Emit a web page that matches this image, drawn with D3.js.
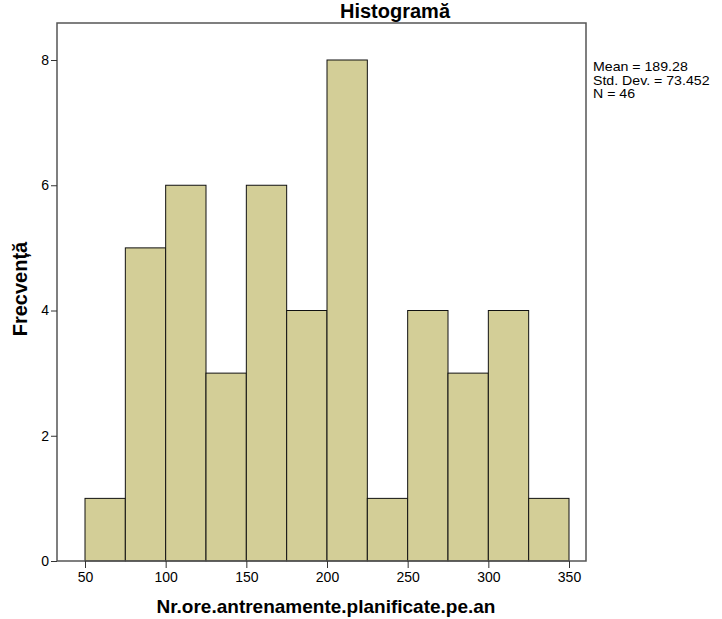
<!DOCTYPE html>
<html>
<head>
<meta charset="utf-8">
<script src="https://cdn.jsdelivr.net/npm/d3@7/dist/d3.min.js"></script>
<style>
  html, body { margin: 0; padding: 0; background: #fff; }
  svg { display: block; }
  text { font-family: "Liberation Sans", Arial, sans-serif; fill: #000; }
</style>
</head>
<body>
<script>
// Histogram bins (lower edges, width 25) and their frequencies
const binStarts = [50, 75, 100, 125, 150, 175, 200, 225, 250, 275, 300, 325];
const binWidth = 25;
const counts = [1, 5, 6, 3, 6, 4, 8, 1, 4, 3, 4, 1];
const xTicks = [50, 100, 150, 200, 250, 300, 350];
const yTicks = [0, 2, 4, 6, 8];
const statLines = ["Mean = 189.28", "Std. Dev. = 73.452", "N = 46"];
const title = "Histogramă";
const xLabel = "Nr.ore.antrenamente.planificate.pe.an";
const yLabel = "Frecvență";

const W = 722, H = 619;
const frame = { left: 57, right: 586, top: 23, bottom: 561 };

const svg = d3.select("body").append("svg").attr("width", W).attr("height", H);

const x = d3.scaleLinear().domain([50, 350]).range([85, 569]);
const y = d3.scaleLinear().domain([0, 8]).range([frame.bottom, 60]);

// bars
svg.append("g").selectAll("rect")
  .data(binStarts.map((s, i) => ({ s, c: counts[i] })))
  .join("rect")
  .attr("x", d => x(d.s))
  .attr("width", d => x(d.s + binWidth) - x(d.s))
  .attr("y", d => y(d.c))
  .attr("height", d => y(0) - y(d.c))
  .attr("fill", "#d3ce97")
  .attr("stroke", "#111")
  .attr("stroke-width", 1);

// plot frame
svg.append("rect")
  .attr("x", frame.left).attr("y", frame.top)
  .attr("width", frame.right - frame.left)
  .attr("height", frame.bottom - frame.top)
  .attr("fill", "none")
  .attr("stroke", "#555")
  .attr("stroke-width", 1.5);

// y axis
const yAxis = d3.axisLeft(y).tickValues(yTicks).tickSize(6).tickPadding(2).tickFormat(d3.format("d"));
const gy = svg.append("g").attr("transform", `translate(${frame.left},0)`).call(yAxis);
gy.select(".domain").remove();
gy.selectAll(".tick line").attr("stroke", "#333");
gy.selectAll(".tick text").style("font-size", "14px").style("font-family", "Liberation Sans, Arial, sans-serif");

// x axis
const xAxis = d3.axisBottom(x).tickValues(xTicks).tickSize(7).tickPadding(4).tickFormat(d3.format("d"));
const gx = svg.append("g").attr("transform", `translate(0,${frame.bottom})`).call(xAxis);
gx.select(".domain").remove();
gx.selectAll(".tick line").attr("stroke", "#333");
gx.selectAll(".tick text").style("font-size", "14px").style("font-family", "Liberation Sans, Arial, sans-serif");

// title
svg.append("text")
  .attr("x", 395).attr("y", 18)
  .attr("text-anchor", "middle")
  .style("font-size", "20px").style("font-weight", "bold")
  .text(title);

// axis titles
svg.append("text")
  .attr("x", 326).attr("y", 613)
  .attr("text-anchor", "middle")
  .style("font-size", "19px").style("font-weight", "bold")
  .text(xLabel);

svg.append("text")
  .attr("transform", "translate(27,289) rotate(-90)")
  .attr("text-anchor", "middle")
  .style("font-size", "20px").style("font-weight", "bold")
  .text(yLabel);

// summary statistics, slightly widened glyphs with tight leading
svg.append("g").selectAll("text")
  .data(statLines)
  .join("text")
  .attr("transform", (d, i) => `translate(593,${71 + i * 13.5}) scale(1.18,1)`)
  .style("font-size", "12px")
  .text(d => d);
</script>
</body>
</html>
